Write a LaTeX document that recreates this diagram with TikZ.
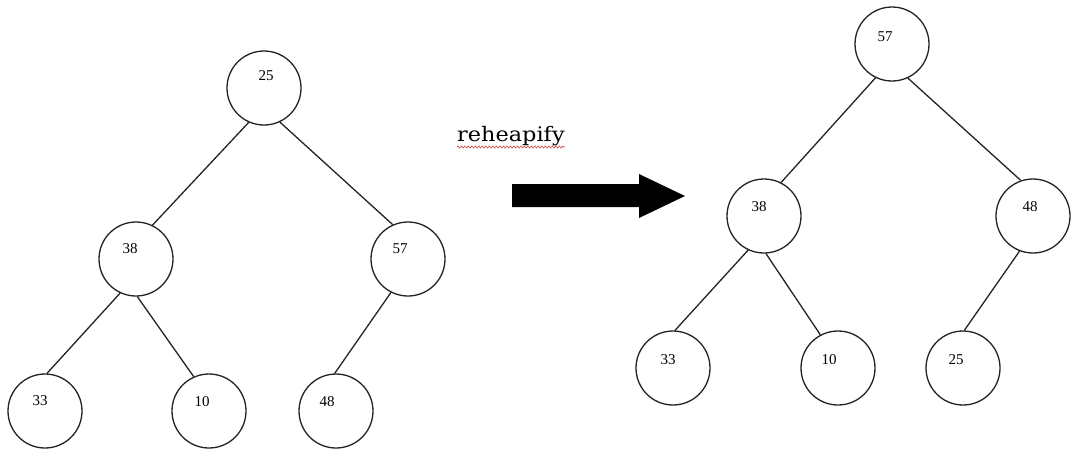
\documentclass[tikz,border=0pt]{standalone}
\usepackage{fontspec}
\setmainfont{Liberation Serif}
\newfontfamily\rhfont{DejaVu Serif}
\usetikzlibrary{decorations.pathmorphing}
\definecolor{inkgray}{RGB}{35,35,35}
\definecolor{spellred}{RGB}{205,70,70}
\begin{document}
\begin{tikzpicture}[x=1pt,y=-1pt,
  heapnode/.style={circle,draw=inkgray,line width=1.3pt,minimum size=74pt,inner sep=0pt},
  edge/.style={draw=inkgray,line width=1.3pt},
  num/.style={font=\fontsize{15}{15}\selectfont,text=black,inner sep=0pt}]
\useasboundingbox (0,0) rectangle (1086,451);
% left tree
\node[heapnode,label={[num,xshift=2pt,yshift=12pt]center:25}] (L25) at (264,88) {};
\node[heapnode,label={[num,xshift=-6pt,yshift=10pt]center:38}] (L38) at (136,259) {};
\node[heapnode,label={[num,xshift=-8pt,yshift=10pt]center:57}] (L57) at (408,259) {};
\node[heapnode,label={[num,xshift=-5pt,yshift=10pt]center:33}] (L33) at (45,411) {};
\node[heapnode,label={[num,xshift=-7pt,yshift=9pt]center:10}] (L10) at (209,411) {};
\node[heapnode,label={[num,xshift=-9pt,yshift=9pt]center:48}] (L48) at (336,411) {};
\draw[edge] (L25.246) -- (L38.64);
\draw[edge] (L25.295) -- (L57.114);
\draw[edge] (L38.245) -- (L33.87);
\draw[edge] (L38.272) -- (L10.114);
\draw[edge] (L57.243) -- (L48.92);
% right tree
\node[heapnode,label={[num,xshift=-7pt,yshift=7pt]center:57}] (R57) at (892,44) {};
\node[heapnode,label={[num,xshift=-5pt,yshift=9pt]center:38}] (R38) at (764,216) {};
\node[heapnode,label={[num,xshift=-3pt,yshift=9pt]center:48}] (R48) at (1033,216) {};
\node[heapnode,label={[num,xshift=-5pt,yshift=8pt]center:33}] (R33) at (673,368) {};
\node[heapnode,label={[num,xshift=-9pt,yshift=8pt]center:10}] (R10) at (838,368) {};
\node[heapnode,label={[num,xshift=-7pt,yshift=8pt]center:25}] (R25) at (963,368) {};
\draw[edge] (R57.244) -- (R38.63);
\draw[edge] (R57.295) -- (R48.109);
\draw[edge] (R38.245) -- (R33.87);
\draw[edge] (R38.273) -- (R10.118);
\draw[edge] (R48.249) -- (R25.88);
% label and arrow
\node[font=\rhfont\fontsize{20}{20}\selectfont,text=black,anchor=base west,inner sep=0pt] (rh) at (457,141) {\scalebox{1.12}[1]{reheapify}};
\draw[spellred,line width=0.6pt,decorate,decoration={zigzag,amplitude=1.1pt,segment length=3.5pt}]
  ([yshift=-6pt]rh.base west) -- ([yshift=-6pt]rh.base east);
\fill[black] (512,184) -- (639,184) -- (639,174) -- (685,196) -- (639,218) -- (639,207) -- (512,207) -- cycle;
\end{tikzpicture}
\end{document}
